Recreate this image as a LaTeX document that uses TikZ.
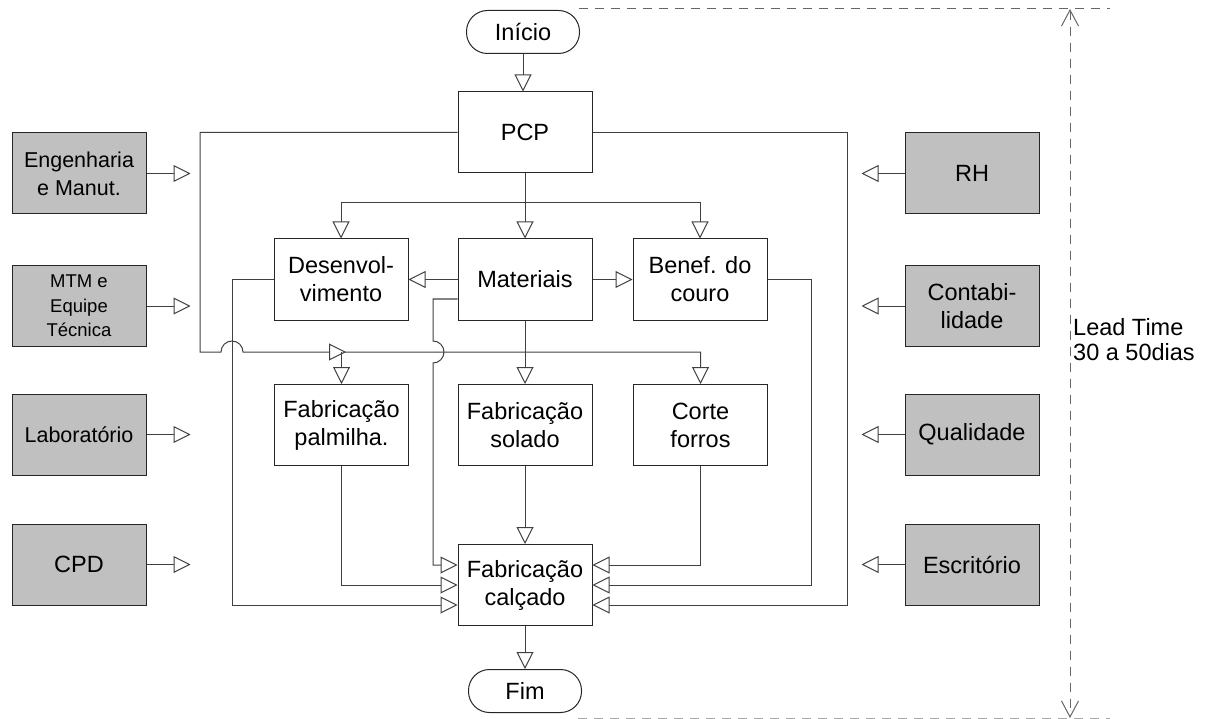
\documentclass[tikz,border=0pt]{standalone}
\usepackage{fontspec}
\setmainfont{Liberation Sans}
\usetikzlibrary{arrows.meta,calc}
\definecolor{boxgray}{HTML}{C0C0C0}
\definecolor{linegray}{HTML}{404040}
\begin{document}
\begin{tikzpicture}[x=1pt,y=-1pt,
  txt/.style={font=\fontsize{23.5}{28}\selectfont},
  box/.style={draw=black!85, line width=1pt, minimum width=134pt, minimum height=81pt,
    inner sep=0pt, align=center, txt},
  side/.style={box, fill=boxgray},
  term/.style={draw=black!85, line width=1pt, rounded corners=21pt, minimum width=113pt,
    minimum height=43pt, inner sep=0pt, txt},
  link/.style={draw=linegray, line width=1pt},
  tip/.style={-{Triangle[open,length=17pt,width=17pt,fill=white]}},
  span/.style={draw=black!60, line width=1pt, dash pattern=on 9pt off 7pt},
  barbs/.style={{Straight Barb[length=16pt,width=17pt]}-{Straight Barb[length=16pt,width=17pt]}}
]
\useasboundingbox (0,0) rectangle (1207,719);

% terminals
\node[term] (ini) at (523,32) {Início};
\node[term] (fim) at (525,691) {Fim};

% main process boxes
\node[box] (pcp) at (525,132.5) {PCP};
\node[box] (des) at (341,279.5) {Desenvol-\\vimento};
\node[box] (mat) at (525,279.5) {Materiais};
\node[box] (ben) at (700,279.5) {Benef. do\\couro};
\node[box] (pal) at (341.5,425) {Fabricação\\palmilha.};
\node[box] (sol) at (525,425) {Fabricação\\solado};
\node[box] (cor) at (700.5,425) {Corte\\forros};
\node[box] (cal) at (525,585) {Fabricação\\calçado};

% support areas, left
\node[side, font=\fontsize{21.5}{28}\selectfont] (eng) at (79,173.5) {Engenharia\\e Manut.};
\node[side, font=\fontsize{18.5}{24.5}\selectfont] (mtm) at (79,306) {MTM e\\Equipe\\Técnica};
\node[side, font=\fontsize{21.5}{28}\selectfont] (lab) at (79,434.5) {Laboratório};
\node[side] (cpd) at (79,564.5) {CPD};

% support areas, right
\node[side] (rh) at (972,173.5) {RH};
\node[side] (con) at (972,306) {Contabi-\\lidade};
\node[side] (qua) at (972,434.5) {Qualidade};
\node[side] (esc) at (972,564.5) {Escritório};

% support arrows
\foreach \n in {eng,mtm,lab,cpd}
  \draw[link,tip] (\n.east) -- ++(44,0);
\foreach \n in {rh,con,qua,esc}
  \draw[link,tip] (\n.west) -- ++(-43,0);

% start and end
\draw[link,tip] (ini.south) -- (ini.south |- pcp.north);
\draw[link,tip] (cal.south) -- (fim.north);

% PCP to the first row
\coordinate (split) at (525,203);
\draw[link,tip] (pcp.south) -- (mat.north);
\draw[link,tip] (split) -| (des.north);
\draw[link,tip] (split) -| (ben.north);

% Materiais outputs
\draw[link,tip] (mat.west) -- (des.east);
\draw[link,tip] (mat.east) -- (ben.west);
\draw[link,tip] (mat.south) -- (sol.north);
\draw[link,tip] ($(mat.west)+(0,19.5)$) -- (433,299) -- (433,341)
  arc[start angle=270,end angle=450,radius=11] -- (433,565) -- ($(cal.west)+(0,-20)$);

% PCP bus to the second row
\coordinate (bus) at (200,352);
\coordinate (busarrow) at (346,352);
\draw[link,tip] (pcp.west) -| (bus) -- (221,352)
  arc[start angle=180,end angle=360,radius=11] -| (cor.north);
\draw[link,tip] (329,352) -- (busarrow);
\draw[link,tip] (pal.north |- bus) -- (pal.north);

% second row to Fabricação calçado
\draw[link,tip] (sol.south) -- (cal.north);
\draw[link,tip] (pal.south) |- (cal.west);
\draw[link,tip] (cor.south) |- ($(cal.east)+(0,-20)$);
\draw[link,tip] (des.west) -- (232,279.5) |- ($(cal.west)+(0,20)$);
\draw[link,tip] (ben.east) -- (811,279.5) |- (cal.east);
\draw[link,tip] (pcp.east) -- (847,132.5) |- ($(cal.east)+(0,20)$);

% lead time span
\coordinate (ltop) at (1070,9);
\coordinate (lbot) at (1070,718);
\draw[span] (579,9) -- (1110,9);
\draw[span, draw=black!35] (578,718) -- (1110,718);
\draw[span, barbs] (ltop) -- (lbot);
\node[anchor=west, align=left, inner sep=0pt, font=\fontsize{23.5}{25}\selectfont] (lt) at (1073,339.5)
  {Lead Time\\30 a 50dias};
\end{tikzpicture}
\end{document}
